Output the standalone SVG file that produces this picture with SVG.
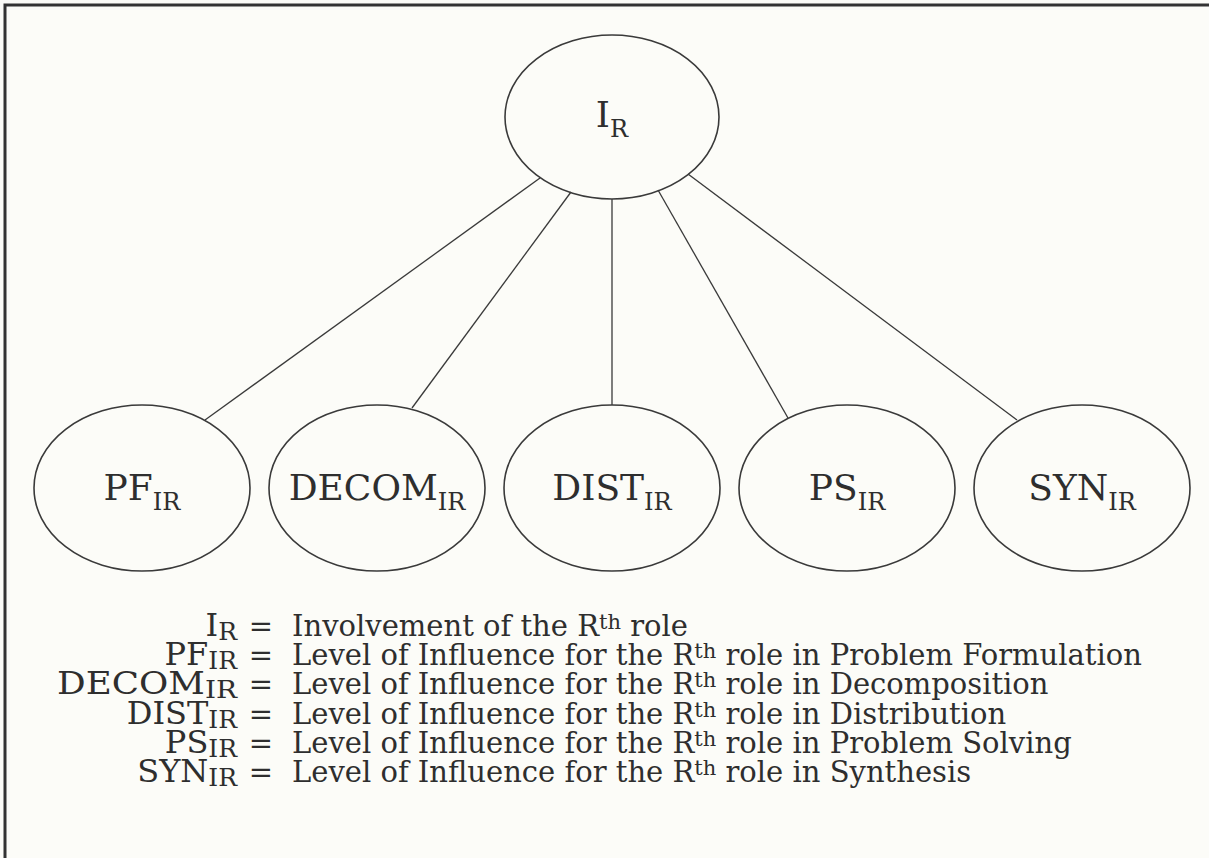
<svg xmlns="http://www.w3.org/2000/svg" width="1209" height="858" viewBox="0 0 1209 858">
  <style>
    .bg { fill: #fcfcf8; }
    .frame { stroke: #333; stroke-width: 3; fill: none; }
    .node { fill: none; stroke: #3a3a3a; stroke-width: 1.6; }
    .edge { stroke: #3a3a3a; stroke-width: 1.3; fill: none; }
    .lbl { font-family: "DejaVu Serif", "Liberation Serif", serif; font-size: 36px; fill: #2e2e2e; text-anchor: middle; }
    .sub { font-size: 24px; }
    .leg { font-family: "DejaVu Serif", "Liberation Serif", serif; font-size: 29px; fill: #2e2e2e; }
    .key { font-family: "DejaVu Serif", "Liberation Serif", serif; font-size: 32px; fill: #2e2e2e; text-anchor: end; }
    .lsub { font-size: 25px; }
    .sup { font-size: 21px; }
  </style>

  <rect class="bg" x="0" y="0" width="1209" height="858"/>
  <!-- open frame: top rule and left rule only -->
  <path class="frame" d="M5,858 V5 H1209"/>

  <!-- connectors from the root to each role activity -->
  <g id="connectors">
    <line class="edge" x1="540" y1="178" x2="205" y2="420"/>
    <line class="edge" x1="571" y1="192" x2="412" y2="408"/>
    <line class="edge" x1="612" y1="199" x2="612" y2="405"/>
    <line class="edge" x1="658" y1="190" x2="788" y2="418"/>
    <line class="edge" x1="688" y1="174" x2="1017" y2="420"/>
  </g>

  <g id="node-IR">
    <ellipse class="node" cx="612" cy="117" rx="107" ry="82"/>
    <text class="lbl" x="612" y="127">I<tspan class="sub" dy="10">R</tspan></text>
  </g>
  <g id="node-PF">
    <ellipse class="node" cx="142" cy="488" rx="108" ry="83"/>
    <text class="lbl" x="142" y="500">PF<tspan class="sub" dy="10">IR</tspan></text>
  </g>
  <g id="node-DECOM">
    <ellipse class="node" cx="377" cy="488" rx="108" ry="83"/>
    <text class="lbl" x="377" y="500">DECOM<tspan class="sub" dy="10">IR</tspan></text>
  </g>
  <g id="node-DIST">
    <ellipse class="node" cx="612" cy="488" rx="108" ry="83"/>
    <text class="lbl" x="612" y="500">DIST<tspan class="sub" dy="10">IR</tspan></text>
  </g>
  <g id="node-PS">
    <ellipse class="node" cx="847" cy="488" rx="108" ry="83"/>
    <text class="lbl" x="847" y="500">PS<tspan class="sub" dy="10">IR</tspan></text>
  </g>
  <g id="node-SYN">
    <ellipse class="node" cx="1082" cy="488" rx="108" ry="83"/>
    <text class="lbl" x="1082" y="500">SYN<tspan class="sub" dy="10">IR</tspan></text>
  </g>

  <!-- legend: symbol, equals sign, meaning -->
  <g id="legend">
    <text class="key" x="237" y="636">I<tspan class="lsub" dy="4">R</tspan></text>
    <text class="key" x="237" y="665">PF<tspan class="lsub" dy="4">IR</tspan></text>
    <text class="key" x="237" y="694" textLength="180" lengthAdjust="spacingAndGlyphs">DECOM<tspan class="lsub" dy="4">IR</tspan></text>
    <text class="key" x="237" y="724">DIST<tspan class="lsub" dy="4">IR</tspan></text>
    <text class="key" x="237" y="753">PS<tspan class="lsub" dy="4">IR</tspan></text>
    <text class="key" x="237" y="782">SYN<tspan class="lsub" dy="4">IR</tspan></text>

    <text class="leg" x="261" y="636" text-anchor="middle">=</text>
    <text class="leg" x="261" y="665" text-anchor="middle">=</text>
    <text class="leg" x="261" y="694" text-anchor="middle">=</text>
    <text class="leg" x="261" y="724" text-anchor="middle">=</text>
    <text class="leg" x="261" y="753" text-anchor="middle">=</text>
    <text class="leg" x="261" y="782" text-anchor="middle">=</text>

    <text class="leg" x="292" y="636">Involvement of the R<tspan class="sup" dy="-7">th</tspan><tspan dy="7"> role</tspan></text>
    <text class="leg" x="292" y="665">Level of Influence for the R<tspan class="sup" dy="-7">th</tspan><tspan dy="7"> role in Problem Formulation</tspan></text>
    <text class="leg" x="292" y="694">Level of Influence for the R<tspan class="sup" dy="-7">th</tspan><tspan dy="7"> role in Decomposition</tspan></text>
    <text class="leg" x="292" y="724">Level of Influence for the R<tspan class="sup" dy="-7">th</tspan><tspan dy="7"> role in Distribution</tspan></text>
    <text class="leg" x="292" y="753">Level of Influence for the R<tspan class="sup" dy="-7">th</tspan><tspan dy="7"> role in Problem Solving</tspan></text>
    <text class="leg" x="292" y="782">Level of Influence for the R<tspan class="sup" dy="-7">th</tspan><tspan dy="7"> role in Synthesis</tspan></text>
  </g>
</svg>
